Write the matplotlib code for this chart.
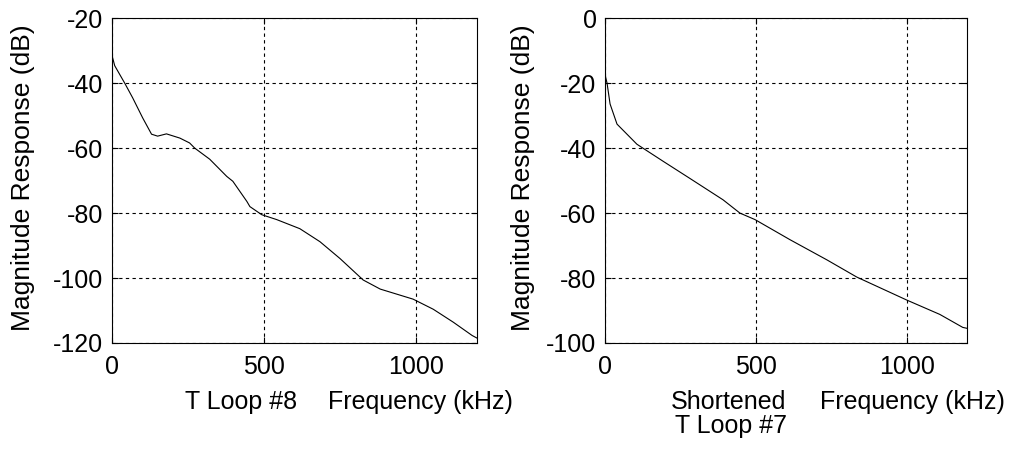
import matplotlib
matplotlib.use("Agg")
import matplotlib.pyplot as plt

# Left panel: T Loop #8
freq_a = [0, 10, 43, 69, 102, 131, 151, 180, 224, 256, 273, 322, 378, 398, 444, 454, 493,
          542, 618, 684, 750, 826, 882, 990, 1056, 1122, 1184, 1200]
mag_a = [-31, -34.6, -40, -44.5, -50.7, -55.7, -56.3, -55.6, -56.9, -58.4, -60, -63.4, -68.7,
         -70.2, -76.4, -78, -80.5, -82, -84.8, -88.8, -94, -100.6, -103.4, -106.5, -109.6,
         -113.6, -117.7, -118.5]

# Right panel: Shortened T Loop #7
freq_b = [2, 7, 17, 40, 106, 192, 281, 391, 447, 497, 613, 735, 834, 1000, 1109, 1185, 1200]
mag_b = [-18, -20, -26.4, -32.6, -38.8, -44, -49.3, -55.9, -60, -62, -68.2, -74.4, -79.7,
         -86.8, -91.2, -95.2, -95.5]

xticks = [0, 500, 1000]
yticks_a = [-20, -40, -60, -80, -100, -120]
yticks_b = [0, -20, -40, -60, -80, -100]

plt.rcParams['font.family'] = ['Liberation Sans', 'DejaVu Sans']
FS = 18

fig = plt.figure(figsize=(10.15, 4.51), dpi=100)
ax1 = fig.add_axes([0.110, 0.2395, 0.360, 0.72])
ax2 = fig.add_axes([0.596, 0.2395, 0.357, 0.72])

for ax, f, m, yt in [(ax1, freq_a, mag_a, yticks_a), (ax2, freq_b, mag_b, yticks_b)]:
    ax.plot(f, m, color='black', lw=0.8)
    ax.set_xlim(0, 1200)
    ax.set_ylim(min(yt), max(yt))
    ax.set_xticks(xticks)
    ax.set_yticks(yt)
    ax.set_xticklabels([str(v) for v in xticks], fontsize=FS)
    ax.set_yticklabels([str(v) for v in yt], fontsize=FS)
    ax.grid(True, color='black', linestyle=(0, (3, 3)), linewidth=0.8)
    ax.tick_params(direction='in', length=4, top=True, right=True)
    ax.tick_params(axis='x', pad=9)
    ax.tick_params(axis='y', pad=6)
    for s in ax.spines.values():
        s.set_linewidth(0.8)

fig.text(0.0227, 0.605, 'Magnitude Response (dB)', rotation=90, fontsize=FS + 1,
         ha='center', va='center')
fig.text(0.515, 0.605, 'Magnitude Response (dB)', rotation=90, fontsize=FS + 1,
         ha='center', va='center')

fig.text(0.2374, 0.0931, 'T Loop #8', fontsize=FS, ha='center', va='baseline')
fig.text(0.4138, 0.0931, 'Frequency (kHz)', fontsize=FS, ha='center', va='baseline')
fig.text(0.718, 0.0931, 'Shortened', fontsize=FS, ha='center', va='baseline')
fig.text(0.720, 0.040, 'T Loop #7', fontsize=FS, ha='center', va='baseline')
fig.text(0.8985, 0.0931, 'Frequency (kHz)', fontsize=FS, ha='center', va='baseline')

fig.savefig('out.png', dpi=100)
